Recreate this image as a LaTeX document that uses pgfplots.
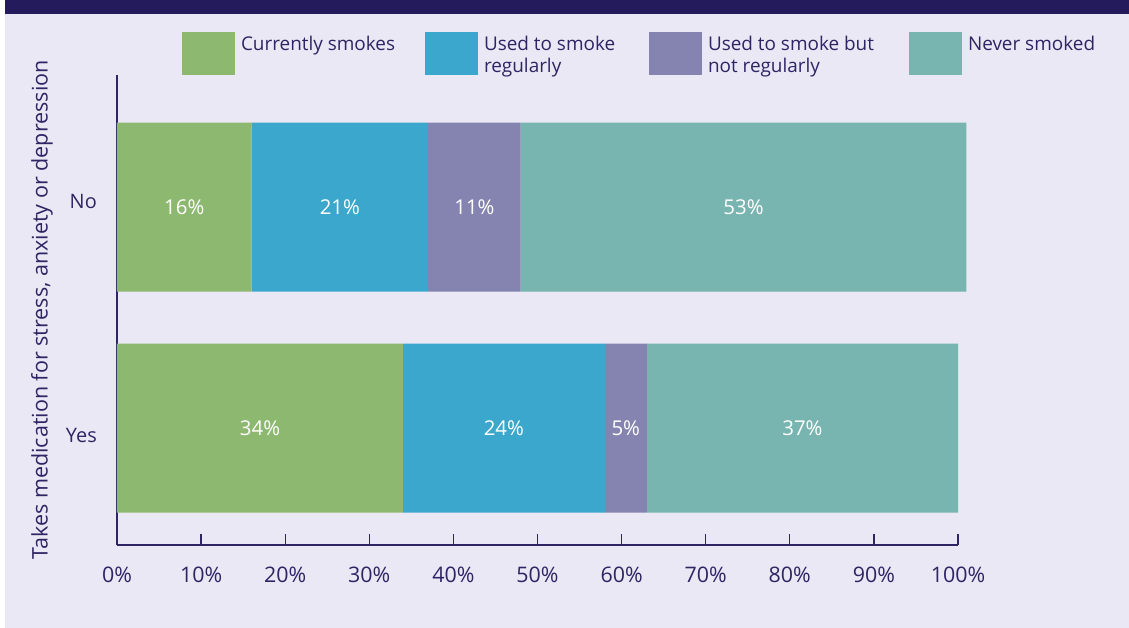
\documentclass[border=0pt]{standalone}
\usepackage{pgfplots}
\pgfplotsset{compat=1.18}
\usepackage{fontspec}
\setmainfont{Open Sans}
\definecolor{bg}{HTML}{EAE8F4}
\definecolor{navy}{HTML}{231B5C}
\definecolor{txt}{HTML}{2E2565}
\definecolor{cgreen}{HTML}{8DB86F}
\definecolor{cblue}{HTML}{3BA7CD}
\definecolor{cpurple}{HTML}{8584B0}
\definecolor{cteal}{HTML}{78B5B0}
\begin{document}
\fontsize{20}{22}\selectfont
\begin{tikzpicture}
\fill[white] (0,0) rectangle (1129bp,-628bp);
\fill[bg] (5bp,-14bp) rectangle (1129bp,-628bp);
\fill[navy] (5bp,0) rectangle (1129bp,-14bp);
\begin{axis}[
  at={(117bp,-545bp)}, anchor=south west,
  x=8.41bp, y=221bp,
  xmin=0, xmax=100, ymin=-0.529, ymax=1.597,
  xbar stacked, bar width=169bp,
  clip=false,
  axis x line=bottom, axis y line=left,
  axis line style={-, draw=txt, line width=1.3bp},
  xtick={0,10,...,100},
  xticklabel={\pgfmathprintnumber{\tick}\%},
  /pgf/number format/assume math mode=true,
  xticklabel style={inner sep=0pt, yshift=-22bp, font=\fontsize{21.5}{24}\selectfont},
  ytick={-0.032,1.027}, yticklabels={Yes,No},
  yticklabel style={inner sep=0pt, xshift=-20bp, font=\fontsize{20}{22}\selectfont},
  every tick label/.append style={text=txt},
  tick align=inside,
  major tick length=11bp,
  xtick style={draw=txt, line width=1.3bp},
  ytick style={draw=none},
  ylabel={Takes medication for stress, anxiety or depression},
  ylabel style={at={(axis description cs:-0.0892,0.5)}, anchor=center, text=txt, font=\fontsize{21.6}{24}\selectfont},
  visualization depends on=rawx \as \rawx,
  nodes near coords={\pgfmathprintnumber[fixed,precision=0]{\rawx}\%},
  every node near coord/.append style={anchor=center, text=white, font=\fontsize{20.5}{22}\selectfont},
  legend image code/.code={\fill[#1] (0bp,-25bp) rectangle (53bp,18bp);},
  legend style={at={(axis cs:7.729,1.792)}, anchor=north west, draw=none, fill=none,
    inner sep=0pt, outer sep=0pt, text=txt, font=\fontsize{19}{22.5}\selectfont,
    nodes={inner sep=0pt, anchor=base west},
    /tikz/every odd column/.append style={column sep=6bp}},
  legend columns=4,
  legend cell align=left,
]
\addplot[fill=cgreen, draw=none] coordinates {(16,1) (34,0)};
\addplot[fill=cblue, draw=none] coordinates {(21,1) (24,0)};
\addplot[fill=cpurple, draw=none] coordinates {(11,1) (5,0)};
\addplot[fill=cteal, draw=none] coordinates {(53,1) (37,0)};
\legend{\makebox[184bp][l]{Currently smokes},
  \makebox[165bp][l]{\begin{tabular}[t]{@{}l@{}}Used to smoke\\regularly\end{tabular}},
  \makebox[201bp][l]{\begin{tabular}[t]{@{}l@{}}Used to smoke but\\not regularly\end{tabular}},
  Never smoked}
\end{axis}
\end{tikzpicture}
\end{document}
